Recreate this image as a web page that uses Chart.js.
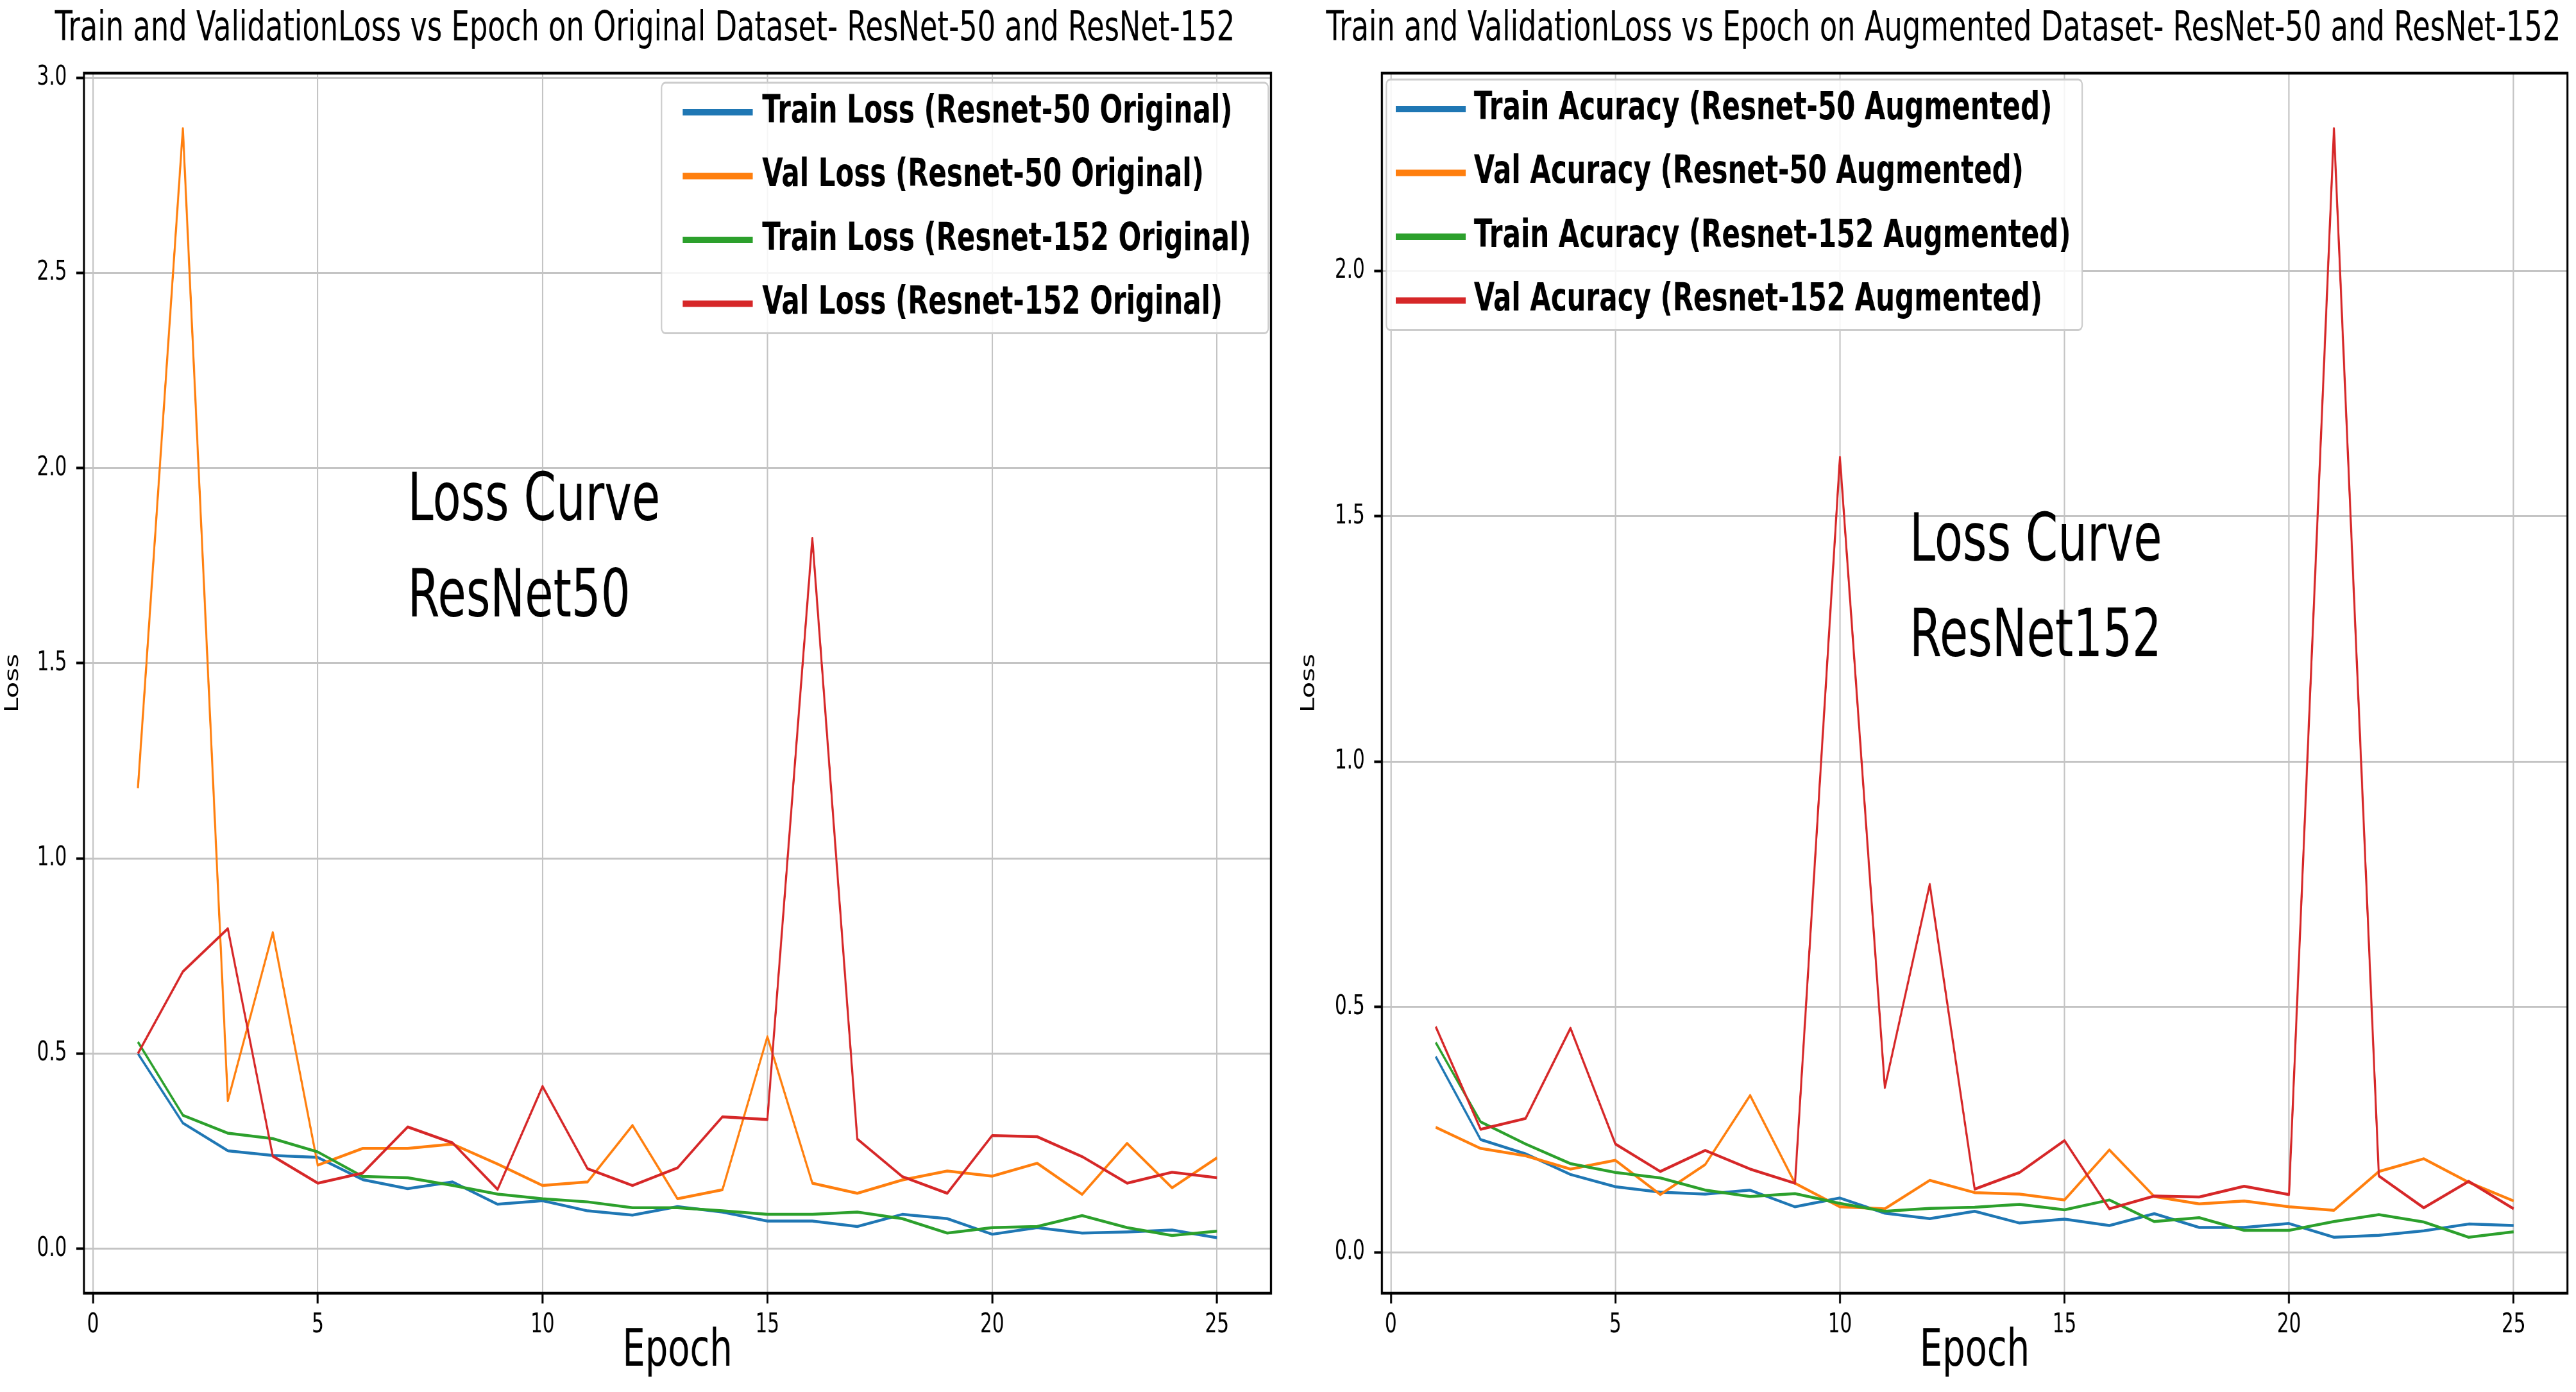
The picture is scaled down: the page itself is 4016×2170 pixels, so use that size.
<!DOCTYPE html>
<html>
<head>
<meta charset="utf-8">
<script src="https://cdn.jsdelivr.net/npm/chart.js@4.4.1/dist/chart.umd.min.js"></script>
<style>
html, body { margin: 0; padding: 0; background: #ffffff; overflow: hidden; }
#wrap { display: flex; width: 4016px; height: 2170px; background: #ffffff; }
canvas { display: block; }
</style>
</head>
<body>
<div id="wrap">
  <canvas id="lossOriginal" width="2869" height="2170" style="width:2008px;height:2170px"></canvas>
  <canvas id="lossAugmented" width="2869" height="2170" style="width:2008px;height:2170px"></canvas>
</div>
<script>
// ---------------- data ----------------
const epochs = [1, 2, 3, 4, 5, 6, 7, 8, 9, 10, 11, 12, 13, 14, 15, 16, 17, 18, 19, 20, 21, 22, 23, 24, 25];
const xTickValues = [0, 5, 10, 15, 20, 25];
const yTickValuesOriginal = [0, 0.5, 1.0, 1.5, 2.0, 2.5, 3.0];
const yTickValuesAugmented = [0, 0.5, 1.0, 1.5, 2.0];

const titleOriginal = 'Train and ValidationLoss vs Epoch on Original Dataset- ResNet-50 and ResNet-152';
const titleAugmented = 'Train and ValidationLoss vs Epoch on Augmented Dataset- ResNet-50 and ResNet-152';

const labelsOriginal = [
  'Train Loss (Resnet-50 Original)',
  'Val Loss (Resnet-50 Original)',
  'Train Loss (Resnet-152 Original)',
  'Val Loss (Resnet-152 Original)'
];
const labelsAugmented = [
  'Train Acuracy (Resnet-50 Augmented)',
  'Val Acuracy (Resnet-50 Augmented)',
  'Train Acuracy (Resnet-152 Augmented)',
  'Val Acuracy (Resnet-152 Augmented)'
];

const trainLossR50Original  = [0.50, 0.322, 0.251, 0.239, 0.234, 0.177, 0.154, 0.171, 0.114, 0.123, 0.097, 0.086, 0.108, 0.094, 0.071, 0.071, 0.057, 0.088, 0.077, 0.037, 0.054, 0.040, 0.043, 0.048, 0.028];
const valLossR50Original    = [1.18, 2.87, 0.379, 0.81, 0.214, 0.257, 0.257, 0.268, 0.217, 0.162, 0.171, 0.316, 0.128, 0.151, 0.543, 0.168, 0.142, 0.176, 0.199, 0.186, 0.219, 0.139, 0.270, 0.156, 0.233];
const trainLossR152Original = [0.53, 0.342, 0.296, 0.282, 0.248, 0.185, 0.182, 0.162, 0.140, 0.128, 0.120, 0.105, 0.105, 0.097, 0.088, 0.088, 0.094, 0.077, 0.040, 0.054, 0.057, 0.085, 0.054, 0.034, 0.045];
const valLossR152Original   = [0.50, 0.71, 0.82, 0.237, 0.168, 0.194, 0.312, 0.271, 0.152, 0.416, 0.205, 0.162, 0.207, 0.338, 0.331, 1.82, 0.281, 0.185, 0.142, 0.290, 0.287, 0.236, 0.168, 0.196, 0.182];

const trainLossR50Augmented  = [0.399, 0.230, 0.201, 0.159, 0.134, 0.123, 0.119, 0.127, 0.093, 0.111, 0.080, 0.069, 0.084, 0.060, 0.068, 0.055, 0.079, 0.051, 0.051, 0.059, 0.031, 0.035, 0.044, 0.058, 0.055];
const valLossR50Augmented    = [0.255, 0.212, 0.197, 0.170, 0.188, 0.118, 0.179, 0.320, 0.141, 0.093, 0.089, 0.147, 0.122, 0.119, 0.107, 0.209, 0.114, 0.099, 0.105, 0.093, 0.086, 0.165, 0.191, 0.143, 0.105];
const trainLossR152Augmented = [0.428, 0.266, 0.221, 0.181, 0.163, 0.152, 0.127, 0.114, 0.120, 0.100, 0.084, 0.090, 0.092, 0.098, 0.087, 0.107, 0.063, 0.071, 0.045, 0.045, 0.063, 0.077, 0.062, 0.031, 0.042];
const valLossR152Augmented   = [0.46, 0.251, 0.273, 0.457, 0.221, 0.165, 0.208, 0.170, 0.141, 1.62, 0.336, 0.75, 0.129, 0.163, 0.228, 0.089, 0.115, 0.113, 0.135, 0.118, 2.29, 0.156, 0.091, 0.145, 0.089];

const seriesColors = ['#1f77b4', '#ff7f0e', '#2ca02c', '#d62728'];

// ---------------- drawing helpers ----------------
Chart.defaults.font.family = '"DejaVu Sans", sans-serif';
Chart.defaults.color = '#000000';

const framePlugin = {
  id: 'frame',
  afterDatasetsDraw(chart, args, opts) {
    const { ctx, chartArea: ca, scales } = chart;
    ctx.save();
    // spines (all four sides)
    ctx.strokeStyle = '#000000';
    ctx.lineWidth = opts.spineWidth;
    ctx.strokeRect(ca.left, ca.top, ca.right - ca.left, ca.bottom - ca.top);

    // text annotations placed in data coordinates
    ctx.fillStyle = '#000000';
    ctx.font = opts.noteSize + 'px "DejaVu Sans"';
    ctx.textAlign = 'left';
    ctx.textBaseline = 'alphabetic';
    opts.notes.forEach(n => {
      ctx.fillText(n.text, scales.x.getPixelForValue(n.x), scales.y.getPixelForValue(n.y));
    });

    // legend box
    const L = opts.legend;
    const ds = chart.data.datasets;
    ctx.font = 'bold ' + L.fontSize + 'px "DejaVu Sans"';
    const textW = Math.max(...ds.map(d => ctx.measureText(d.label).width));
    const w = L.padLeft + L.sampleLen + L.gap + textW + L.padRight;
    const h = L.firstRow * 2 + L.rowGap * (ds.length - 1);
    const left = L.anchor === 'right' ? ca.right - L.inset - w : ca.left + L.inset;
    const top = ca.top + L.insetTop;
    ctx.beginPath();
    if (ctx.roundRect) ctx.roundRect(left, top, w, h, 8); else ctx.rect(left, top, w, h);
    ctx.fillStyle = 'rgba(255,255,255,0.85)';
    ctx.fill();
    ctx.strokeStyle = '#cccccc';
    ctx.lineWidth = 3;
    ctx.stroke();
    ds.forEach((d, i) => {
      const y = top + L.firstRow + i * L.rowGap;
      ctx.strokeStyle = d.borderColor;
      ctx.lineWidth = L.sampleWidth;
      ctx.lineCap = 'butt';
      ctx.beginPath();
      ctx.moveTo(left + L.padLeft, y);
      ctx.lineTo(left + L.padLeft + L.sampleLen, y);
      ctx.stroke();
      ctx.fillStyle = '#000000';
      ctx.textAlign = 'left';
      ctx.textBaseline = 'middle';
      ctx.fillText(d.label, left + L.padLeft + L.sampleLen + L.gap, y);
    });
    ctx.restore();
  }
};

function buildDatasets(labels, seriesList) {
  const orders = [4, 3, 2, 1];
  return seriesList.map((values, i) => ({
    label: labels[i],
    data: epochs.map((e, j) => ({ x: e, y: values[j] })),
    borderColor: seriesColors[i],
    backgroundColor: seriesColors[i],
    borderWidth: 4.5,
    pointRadius: 0,
    tension: 0,
    fill: false,
    borderJoinStyle: 'round',
    borderCapStyle: 'butt',
    order: orders[i]
  }));
}

function makeChart(canvasId, cfg) {
  return new Chart(document.getElementById(canvasId), {
    type: 'line',
    data: { datasets: buildDatasets(cfg.labels, cfg.series) },
    plugins: [framePlugin],
    options: {
      responsive: false,
      maintainAspectRatio: false,
      devicePixelRatio: 1,
      animation: false,
      events: [],
      layout: { autoPadding: false, padding: { left: cfg.padLeft, right: cfg.padRight, top: 0, bottom: 0 } },
      plugins: {
        legend: { display: false },
        tooltip: { enabled: false },
        title: {
          display: true,
          text: cfg.title,
          color: '#000000',
          font: { size: 64, weight: 'normal', lineHeight: 1.2 },
          padding: { top: 8, bottom: 29.2 }
        },
        frame: {
          spineWidth: 4.5,
          noteSize: 103,
          notes: cfg.notes,
          legend: cfg.legend
        }
      },
      scales: {
        x: {
          type: 'linear',
          min: -0.2,
          max: 26.2,
          bounds: 'data',
          afterBuildTicks: s => { s.ticks = xTickValues.map(v => ({ value: v })); },
          afterFit: s => { s.height = 154; },
          ticks: { font: { size: 42 }, color: '#000000', padding: 9, autoSkip: false, maxRotation: 0 },
          grid: { color: '#c4c4c4', lineWidth: 3, drawTicks: true, tickLength: 16, tickColor: '#000000', tickWidth: 4.3 },
          border: { display: false },
          title: { display: true, text: 'Epoch', color: '#000000', font: { size: 80 }, padding: { top: 0, bottom: 14 } }
        },
        y: {
          type: 'linear',
          min: cfg.yMin,
          max: cfg.yMax,
          bounds: 'data',
          afterBuildTicks: s => { s.ticks = cfg.yTicks.map(v => ({ value: v })); },
          afterFit: s => { s.width = cfg.yWidth; },
          ticks: { font: { size: 42 }, color: '#000000', padding: 21, callback: v => Number(v).toFixed(1) },
          grid: { color: '#c4c4c4', lineWidth: 3, drawTicks: true, tickLength: 17, tickColor: '#000000', tickWidth: 4 },
          border: { display: false },
          title: { display: true, text: 'Loss', color: '#000000', font: { size: 42 }, padding: { top: cfg.lossPad, bottom: 0 } }
        }
      }
    }
  });
}

makeChart('lossOriginal', {
  title: titleOriginal,
  labels: labelsOriginal,
  series: [trainLossR50Original, valLossR50Original, trainLossR152Original, valLossR152Original],
  yMin: -0.114, yMax: 3.012, yTicks: yTickValuesOriginal,
  padLeft: 42, padRight: 38, yWidth: 145, lossPad: -38.2,
  notes: [ { text: 'Loss Curve', x: 7, y: 1.866 }, { text: 'ResNet50', x: 7, y: 1.62 } ],
  legend: { anchor: 'right', inset: 6, insetTop: 15, fontSize: 60, padLeft: 47, sampleLen: 156, gap: 21, padRight: 38, firstRow: 46, rowGap: 99.5, sampleWidth: 10 }
});

makeChart('lossAugmented', {
  title: titleAugmented,
  labels: labelsAugmented,
  series: [trainLossR50Augmented, valLossR50Augmented, trainLossR152Augmented, valLossR152Augmented],
  yMin: -0.083, yMax: 2.403, yTicks: yTickValuesAugmented,
  padLeft: 70, padRight: 19, yWidth: 139, lossPad: -48.2,
  notes: [ { text: 'Loss Curve', x: 11.55, y: 1.41 }, { text: 'ResNet152', x: 11.55, y: 1.215 } ],
  legend: { anchor: 'left', inset: 10, insetTop: 10, fontSize: 60, padLeft: 21, sampleLen: 156, gap: 18, padRight: 25, firstRow: 46, rowGap: 99.5, sampleWidth: 10 }
});
</script>
</body>
</html>
